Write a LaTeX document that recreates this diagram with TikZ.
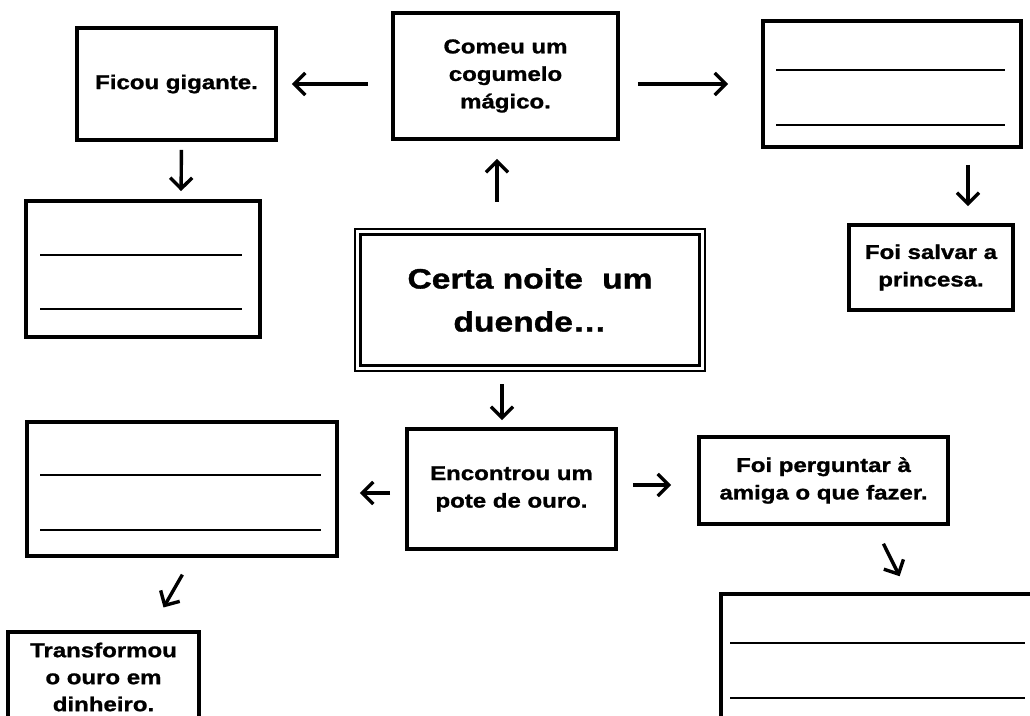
\documentclass[tikz,border=0pt]{standalone}
\usepackage{fontspec}
\setmainfont{Liberation Sans}[FakeStretch=1.2, BoldFeatures={FakeBold=1.2}]
\usetikzlibrary{arrows.meta,calc}
\begin{document}
\begin{tikzpicture}[x=1pt,y=-1pt,
  box/.style={draw, line width=3.8pt, rectangle, inner sep=0pt, align=center,
    font=\fontsize{20}{27.5}\selectfont\bfseries},
  arr/.style={line width=3.4pt, -{Straight Barb[length=11pt,width=22pt,line width=3.4pt]}},
  rulel/.style={line width=2.2pt},
]
\useasboundingbox (0,0) rectangle (1030,715);
\clip (0,0) rectangle (1030,715);
\fill[white] (0,0) rectangle (1030,715);

% nodes
\node[box, minimum width=199pt, minimum height=112pt] (ficou) at (176.5,84) {Ficou gigante.};
\node[box, minimum width=234pt, minimum height=136pt] (blankA) at (143,269) {};
\node[box, minimum width=225pt, minimum height=126pt] (comeu) at (505.5,76) {Comeu um\\cogumelo\\mágico.};
\node[box, minimum width=258pt, minimum height=126pt] (blankB) at (892,84) {};
\node[box, minimum width=164pt, minimum height=85pt] (princesa) at (931,267.5) {Foi salvar a\\princesa.};
\node[draw, line width=2.2pt, minimum width=350pt, minimum height=142pt, inner sep=0pt, align=center,
  font=\fontsize{28}{43}\selectfont\bfseries] (centro) at (530,300) {Certa noite\hspace{0.35em} um\\duende…};
\draw[line width=2.8pt] ($(centro.north west)+(6.5,6.5)$) rectangle ($(centro.south east)+(-6.5,-6.5)$);
\node[box, minimum width=209pt, minimum height=120pt] (encontrou) at (511.5,489) {Encontrou um\\pote de ouro.};
\node[box, minimum width=310pt, minimum height=134pt] (blankC) at (182,489) {};
\node[box, minimum width=191pt, minimum height=90pt, font=\fontsize{20}{27}\selectfont\bfseries] (transf) at (103.5,677) {Transformou\\o ouro em\\dinheiro.};
\node[box, minimum width=249pt, minimum height=87pt] (pergunta) at (823.5,480.5) {Foi perguntar à\\amiga o que fazer.};
\node[box, minimum width=321pt, minimum height=146pt] (blankD) at (881.5,667) {};

% writing lines
\draw[rulel] ($(blankA.north west)+(16,56)$) -- ($(blankA.north east)+(-20,56)$);
\draw[rulel] ($(blankA.north west)+(16,110)$) -- ($(blankA.north east)+(-20,110)$);
\draw[rulel] ($(blankB.north west)+(15,51)$) -- ($(blankB.north east)+(-18,51)$);
\draw[rulel] ($(blankB.north west)+(15,106)$) -- ($(blankB.north east)+(-18,106)$);
\draw[rulel] ($(blankC.north west)+(15,55)$) -- ($(blankC.north east)+(-18,55)$);
\draw[rulel] ($(blankC.north west)+(15,110)$) -- ($(blankC.north east)+(-18,110)$);
\draw[rulel] ($(blankD.north west)+(11,51)$) -- ($(blankD.north east)+(-19,51)$);
\draw[rulel] ($(blankD.north west)+(11,106)$) -- ($(blankD.north east)+(-19,106)$);

% arrows
\draw[arr, shorten <=23pt, shorten >=14pt] (comeu.west |- ficou.east) -- (ficou.east);
\draw[arr, shorten <=8pt, shorten >=8pt] ($(ficou.south)+(5,0)$) -- ($(blankA.north)+(38,0)$);
\draw[arr, shorten <=26pt, shorten >=18pt] ($(centro.north)+(-33,0)$) -- ($(comeu.south)+(-8.5,0)$);
\draw[arr, shorten <=18pt, shorten >=33pt] (comeu.east |- blankB.west) -- (blankB.west);
\draw[arr, shorten <=16pt, shorten >=17pt] ($(blankB.south)+(76,0)$) -- ($(princesa.north)+(37,0)$);
\draw[arr, shorten <=12pt, shorten >=7pt] ($(centro.south)+(-28,0)$) -- ($(encontrou.north)+(-9.5,0)$);
\draw[arr, shorten <=15pt, shorten >=21pt] ($(encontrou.west)+(0,4)$) -- ($(blankC.east)+(0,4)$);
\draw[arr, shorten <=15pt, shorten >=26pt] ($(encontrou.east)+(0,-4)$) -- ($(pergunta.west)+(0,4.5)$);
\draw[arr, shorten <=19.3pt, shorten >=26.1pt] ($(blankC.south)+(10,0)$) -- ($(transf.north)+(47,0)$);
\draw[arr, shorten <=19.9pt, shorten >=17.7pt] ($(pergunta.south)+(51,0)$) -- ($(blankD.north)+(26,0)$);
\end{tikzpicture}
\end{document}
